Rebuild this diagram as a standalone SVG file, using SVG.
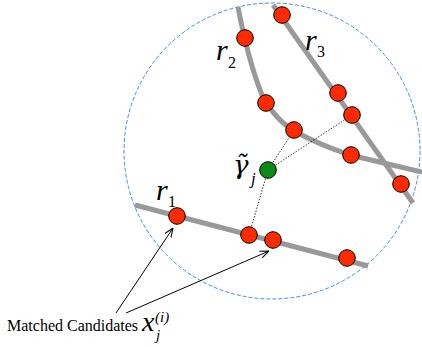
<svg xmlns="http://www.w3.org/2000/svg" width="422" height="347" viewBox="0 0 422 347">
<style>
.road{fill:none;stroke:#999;stroke-width:5;stroke-linecap:butt}
.cand{fill:#ff2a00;stroke:#000;stroke-width:1}
.gam{fill:#0b8a16;stroke:#000;stroke-width:1}
.dot{fill:none;stroke:#000;stroke-width:0.8;stroke-dasharray:1.5 1.5}
.arr{fill:none;stroke:#000;stroke-width:1}
.mi{font-family:"Liberation Serif","Times New Roman",serif;font-style:italic;fill:#000}
.sub{font-family:"Liberation Serif","Times New Roman",serif;fill:#000}
.lbl{font-family:"Liberation Serif","Times New Roman",serif;font-size:16px;fill:#000}
</style>
<defs>
<marker id="open" viewBox="0 0 10 10" refX="10" refY="5" markerWidth="9" markerHeight="9" markerUnits="userSpaceOnUse" orient="auto">
<path d="M0,1 L10,5 L0,9" fill="none" stroke="#000" stroke-width="1.2"/>
</marker>
</defs>
<circle id="region" cx="272" cy="151" r="148" fill="none" stroke="#4a86f0" stroke-width="1" stroke-dasharray="4 2"/>
<g id="roads">
<path id="road-r1" class="road" d="M135,205 L368,266"/>
<path id="road-r2" class="road" d="M238,7 Q248,60 262,95 Q275,120 296,132 Q320,145 350,155 L422,172"/>
<path id="road-r3" class="road" d="M273,5 L413,203"/>
</g>
<g id="connectors">
<line class="dot" x1="268" y1="170" x2="294" y2="130"/>
<line class="dot" x1="268" y1="170" x2="352" y2="115"/>
<line class="dot" x1="268" y1="170" x2="249" y2="235"/>
<line class="arr" x1="116" y1="313" x2="173" y2="228" marker-end="url(#open)"/>
<line class="arr" x1="126" y1="313" x2="269" y2="251" marker-end="url(#open)"/>
</g>
<g id="candidates">
<circle class="cand" cx="282" cy="15" r="8.3"/>
<circle class="cand" cx="245" cy="38" r="8.3"/>
<circle class="cand" cx="266" cy="103" r="8.3"/>
<circle class="cand" cx="294" cy="130" r="8.3"/>
<circle class="cand" cx="338" cy="93" r="8.3"/>
<circle class="cand" cx="352" cy="115" r="8.3"/>
<circle class="cand" cx="351" cy="155" r="8.3"/>
<circle class="cand" cx="401" cy="184" r="8.3"/>
<circle class="cand" cx="177" cy="216" r="8.3"/>
<circle class="cand" cx="249" cy="235" r="8.3"/>
<circle class="cand" cx="273" cy="240" r="8.3"/>
<circle class="cand" cx="347" cy="258" r="8.3"/>
</g>
<g id="gamma-node">
<circle class="gam" cx="268" cy="170" r="8.3"/>
<text x="233" y="174" font-size="26" font-style="italic" font-family="'DejaVu Serif',serif" fill="#000">γ̃</text>
<text class="mi" x="251" y="184" font-size="17">j</text>
</g>
<g id="labels">
<text class="mi" x="156" y="200" font-size="30">r</text><text class="sub" x="168" y="207" font-size="16">1</text>
<text class="mi" x="216" y="60" font-size="30">r</text><text class="sub" x="228" y="68" font-size="16">2</text>
<text class="mi" x="305" y="50" font-size="30">r</text><text class="sub" x="317" y="57" font-size="16">3</text>
<text class="lbl" x="7" y="331">Matched Candidates</text>
<text class="mi" x="142" y="331" font-size="28">x</text>
<text class="mi" x="156" y="340" font-size="15">j</text>
<text class="mi" x="155" y="322" font-size="15">(i)</text>
</g>
</svg>
